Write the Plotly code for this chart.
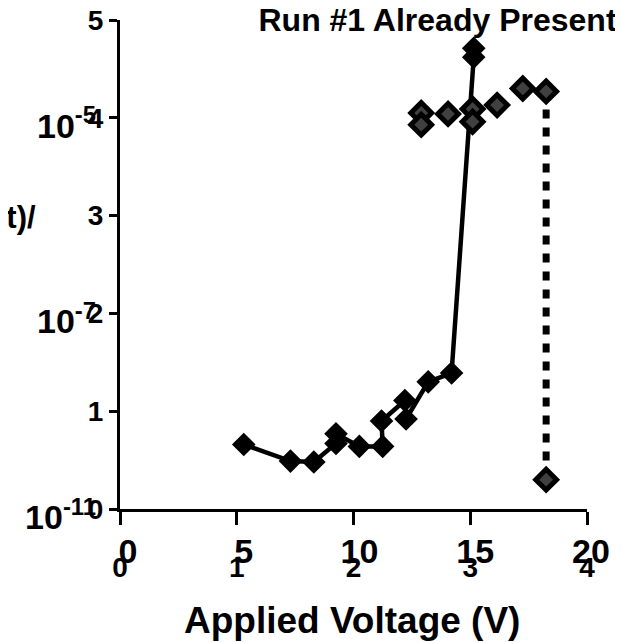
import plotly.graph_objects as go

# ---- data (voltage in V, response on the 0-5 inner scale) ----
run_a_voltage = [5.3, 7.3, 8.3, 9.25, 9.25, 10.25, 11.25, 11.2, 12.2, 12.25, 13.2, 14.2, 15.15, 15.15]
run_a_value = [0.66, 0.49, 0.48, 0.67, 0.77, 0.64, 0.64, 0.90, 1.11, 0.92, 1.30, 1.39, 4.62, 4.71]

run_b_voltage = [12.9, 12.9, 14.05, 15.1, 15.1, 16.15, 17.25, 18.25]
run_b_value = [4.05, 3.93, 4.04, 4.09, 3.96, 4.13, 4.30, 4.27]

drop_voltage = [18.25, 18.25]
drop_value = [4.27, 0.30]

x_tick_vals = [0, 5, 10, 15, 20]
x_tick_big = ["0", "5", "10", "15", "20"]
x_tick_small = ["0", "1", "2", "3", "4"]
y_tick_vals = [0, 1, 2, 3, 4, 5]
y_tick_small = ["0", "1", "2", "3", "4", "5"]
log_tick_vals = [0, 2, 4]
log_tick_text = ["10<sup>-11</sup>", "10<sup>-7</sup>", "10<sup>-5</sup>"]

title_text = "Run #1 Already Present"
x_title = "Applied Voltage (V)"
y_title = "Log (Current)/"

BOLD = "Liberation Sans, Arial, sans-serif"

# The page body has an 8px margin, so the figure is laid out 8px smaller.
W, H = 615, 634
# paper area in page pixels
P_LEFT, P_RIGHT, P_TOP, P_BOT = 120, 600, 20, 539
L, R, T, B = P_LEFT - 8, W + 8 - P_RIGHT, P_TOP - 8, H + 8 - P_BOT
PW = P_RIGHT - P_LEFT
PH = P_BOT - P_TOP
AX_RIGHT, AX_BOT = 587, 509   # page pixels of the data axes ends


def px_x(p):
    return (p - P_LEFT) / PW


def px_y(p):
    return (P_BOT - p) / PH


fig = go.Figure()

fig.add_trace(go.Scatter(
    x=drop_voltage, y=drop_value, mode="lines",
    line=dict(color="black", width=7, dash="9px,9px"),
    hoverinfo="skip", showlegend=False, cliponaxis=False))

fig.add_trace(go.Scatter(
    x=run_a_voltage, y=run_a_value, mode="lines+markers",
    line=dict(color="black", width=4.5),
    marker=dict(symbol="diamond", size=16, color="black",
                line=dict(color="black", width=2)),
    showlegend=False, cliponaxis=False))

fig.add_trace(go.Scatter(
    x=run_b_voltage + [drop_voltage[-1]], y=run_b_value + [drop_value[-1]], mode="markers",
    marker=dict(symbol="diamond", size=16, color="#404040",
                line=dict(color="black", width=5)),
    showlegend=False, cliponaxis=False))

# invisible traces to activate the label-only axes
fig.add_trace(go.Scatter(x=[0], y=[0], xaxis="x2", yaxis="y", mode="markers",
                         marker=dict(opacity=0), hoverinfo="skip", showlegend=False))
fig.add_trace(go.Scatter(x=[0], y=[0], xaxis="x", yaxis="y2", mode="markers",
                         marker=dict(opacity=0), hoverinfo="skip", showlegend=False))

# big voltage labels axis: 0 -> page 128, 20 -> page 591
scale_x2 = (591 - 128) / 20.0
x2_r0 = (P_LEFT - 128) / scale_x2
x2_r1 = x2_r0 + PW / scale_x2

# log labels axis: value v sits at page 517 - 97.8 v
unit_y = (AX_BOT - P_TOP) / 5.0
y2_r0 = (517 - P_BOT) / unit_y
y2_r1 = (517 - P_TOP) / unit_y

fig.update_layout(
    width=W, height=H,
    margin=dict(l=L, r=R, t=T, b=B, autoexpand=False),
    plot_bgcolor="rgba(0,0,0,0)", paper_bgcolor="white",
    title=dict(text=title_text, x=(437.5 - 8) / W, xanchor="center", xref="container",
               y=1 - 12 / H, yanchor="middle", yref="container",
               font=dict(family=BOLD, size=32, color="black", weight="bold")),
    xaxis=dict(domain=[0, px_x(AX_RIGHT)], anchor="y",
               range=[0, 20], tickvals=x_tick_vals, ticktext=x_tick_small,
               showline=True, linewidth=3, linecolor="black",
               ticks="outside", ticklen=13, tickwidth=3, tickcolor="black",
               tickfont=dict(family=BOLD, size=28, color="black", weight="bold"),
               ticklabelstandoff=18, ticklabeloverflow="allow",
               showgrid=False, zeroline=False, fixedrange=True),
    xaxis2=dict(domain=[0, 1], anchor="y", side="bottom",
                range=[x2_r0, x2_r1], tickvals=x_tick_vals, ticktext=x_tick_big,
                showline=False, ticks="", showgrid=False, zeroline=False,
                tickfont=dict(family=BOLD, size=34, color="black", weight="bold"),
                ticklabelstandoff=19, ticklabeloverflow="allow", fixedrange=True),
    yaxis=dict(domain=[px_y(AX_BOT), 1], anchor="x",
               range=[0, 5], tickvals=y_tick_vals, ticktext=y_tick_small,
               showline=True, linewidth=3, linecolor="black",
               ticks="outside", ticklen=8, tickwidth=3, tickcolor="black",
               tickfont=dict(family=BOLD, size=28, color="black", weight="bold"),
               ticklabeloverflow="allow",
               showgrid=False, zeroline=False, fixedrange=True),
    yaxis2=dict(domain=[0, 1], anchor="x", side="left",
                range=[y2_r0, y2_r1], tickvals=log_tick_vals, ticktext=log_tick_text,
                showline=False, ticks="", showgrid=False, zeroline=False,
                tickfont=dict(family=BOLD, size=34, color="black", weight="bold"),
                ticklabelstandoff=23, ticklabeloverflow="allow", fixedrange=True),
    annotations=[
        dict(text=x_title, x=px_x(352), y=px_y(620), xref="paper", yref="paper",
             xanchor="center", yanchor="middle", showarrow=False,
             font=dict(family=BOLD, size=37, color="black", weight="bold")),
        dict(text=y_title, x=px_x(38), y=px_y(217), xref="paper", yref="paper",
             xanchor="right", yanchor="middle", showarrow=False,
             font=dict(family=BOLD, size=31, color="black", weight="bold")),
    ],
)

fig.write_html("out.html")
